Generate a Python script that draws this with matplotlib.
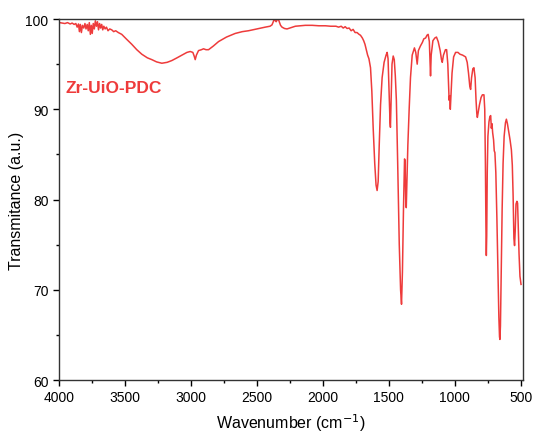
import matplotlib
matplotlib.use("Agg")
import matplotlib.pyplot as plt
from matplotlib.ticker import MultipleLocator

plt.rcParams["font.family"] = ["Liberation Sans", "DejaVu Sans"]

# FT-IR spectrum of Zr-UiO-PDC, (wavenumber, transmittance) read point by point
wavenumber = [
    3995, 3975, 3955, 3935, 3915, 3900, 3885, 3872, 3862, 3852, 3845, 3838,
    3830, 3822, 3812, 3803, 3795, 3786, 3778, 3770, 3762, 3755, 3748, 3740,
    3732, 3724, 3716, 3708, 3700, 3692, 3684, 3676, 3668, 3660, 3650, 3640,
    3628, 3615, 3600, 3585, 3570, 3550, 3524, 3490, 3448, 3410, 3372, 3330,
    3296, 3260, 3220, 3180, 3144, 3105, 3068, 3030, 3005, 2985, 2975, 2967,
    2958, 2942, 2920, 2904, 2885, 2866, 2830, 2790, 2730, 2664, 2610, 2563,
    2500, 2436, 2400, 2385, 2375, 2367, 2360, 2353, 2346, 2339, 2330, 2320,
    2309, 2290, 2271, 2240, 2208, 2170, 2132, 2080, 2030, 1980, 1940, 1900,
    1880, 1860, 1845, 1830, 1816, 1800, 1785, 1770, 1755, 1740, 1725, 1714,
    1700, 1690, 1680, 1670, 1660, 1650, 1638, 1628, 1618, 1606, 1596, 1588,
    1580, 1572, 1562, 1550, 1535, 1520, 1512, 1505, 1497, 1490, 1487, 1482,
    1475, 1466, 1458, 1450, 1442, 1432, 1420, 1410, 1403, 1396, 1388, 1380,
    1376, 1371, 1367, 1362, 1355, 1345, 1335, 1322, 1305, 1295, 1284, 1275,
    1260, 1245, 1234, 1220, 1210, 1201, 1192, 1186, 1183, 1178, 1165, 1150,
    1138, 1125, 1110, 1100, 1094, 1085, 1070, 1061, 1052, 1048, 1042, 1038,
    1033, 1028, 1020, 1008, 993, 975, 960, 940, 917, 905, 895, 885,
    879, 872, 862, 854, 845, 838, 832, 828, 822, 812, 800, 790,
    778, 772, 767, 763, 760, 757, 753, 748, 740, 733, 727, 722,
    717, 712, 705, 700, 695, 688, 680, 672, 665, 660, 657, 653,
    647, 640, 633, 625, 615, 608, 600, 590, 580, 570, 563, 557,
    551, 546, 541, 535, 528, 523, 518, 512, 505, 497,
]
transmittance = [
    99.6, 99.55, 99.5, 99.6, 99.45, 99.55, 99.4, 99.5, 99.1, 99.45, 98.6, 99.4,
    98.5, 99.3, 99.0, 99.5, 98.9, 99.4, 98.7, 99.6, 98.3, 99.3, 98.4, 99.5,
    98.9, 99.8, 99.2, 99.7, 98.8, 99.5, 99.0, 99.4, 98.8, 99.2, 98.9, 99.1,
    98.7, 98.9, 98.8, 98.6, 98.7, 98.5, 98.3, 97.8, 97.2, 96.6, 96.1, 95.7,
    95.5, 95.25, 95.1, 95.2, 95.4, 95.7, 96.0, 96.3, 96.4, 96.3, 95.9, 95.5,
    96.0, 96.5, 96.6, 96.7, 96.6, 96.6, 97.0, 97.5, 98.0, 98.4, 98.6, 98.7,
    98.9, 99.1, 99.2, 99.35, 99.7, 100.1, 99.8, 99.7, 99.9, 100.1, 99.7, 99.3,
    99.1, 98.95, 98.9, 99.05, 99.2, 99.25, 99.3, 99.3, 99.25, 99.25, 99.2, 99.2,
    99.1, 99.2, 99.0, 99.15, 98.95, 99.0, 98.7, 98.85, 98.5, 98.5, 98.3, 98.2,
    97.9, 97.6, 97.2, 96.6, 96.0, 95.6, 94.6, 92.0, 88.0, 84.0, 81.6, 81.0,
    82.0, 86.0, 90.5, 93.5, 95.2, 96.0, 96.3, 95.6, 92.0, 88.5, 88.0, 91.0,
    95.0, 95.9, 95.5, 93.7, 91.0, 84.0, 75.0, 70.0, 68.4, 72.0, 79.0, 84.5,
    84.3, 80.0, 79.1, 82.0, 86.0, 90.0, 93.5, 96.0, 96.8, 96.3, 95.0, 96.5,
    97.0, 97.4, 97.8, 97.9, 98.2, 98.3, 97.5, 95.0, 93.7, 96.0, 97.6, 97.9,
    98.0, 97.5, 96.5, 95.5, 95.2, 96.0, 96.6, 96.6, 95.0, 93.5, 91.0, 91.5,
    90.0, 91.5, 94.0, 95.8, 96.3, 96.3, 96.1, 96.0, 95.8, 95.2, 94.0, 92.5,
    92.2, 93.5, 94.5, 94.6, 93.5, 91.0, 89.5, 89.1, 89.6, 90.5, 91.3, 91.6,
    91.6, 90.0, 84.0, 77.0, 73.8, 76.0, 83.0, 87.0, 88.6, 89.2, 89.3, 87.9,
    88.4, 87.4, 86.6, 85.4, 85.2, 83.0, 78.0, 72.0, 67.0, 64.8, 64.5, 66.0,
    72.0, 79.0, 84.0, 87.0, 88.5, 88.9, 88.4, 87.5, 86.6, 85.5, 83.8, 80.5,
    75.7, 74.9, 76.5, 79.5, 79.8, 79.6, 77.0, 74.0, 71.5, 70.6,
]

red = "#EE3B3B"

fig = plt.figure(figsize=(5.36, 4.35), dpi=100)
ax = fig.add_axes([0.110, 0.124, 0.865, 0.830])

ax.plot(wavenumber, transmittance, color=red, lw=1.1)

ax.set_xlim(4000, 485)
ax.set_ylim(60, 100)
ax.xaxis.set_major_locator(MultipleLocator(500))
ax.xaxis.set_minor_locator(MultipleLocator(250))
ax.yaxis.set_major_locator(MultipleLocator(10))
ax.yaxis.set_minor_locator(MultipleLocator(5))
ax.tick_params(which="both", direction="out", top=False, right=False,
               labelsize=10, width=1.0)
ax.tick_params(which="major", length=4)
ax.tick_params(which="minor", length=2.5)
for sp in ax.spines.values():
    sp.set_linewidth(1.0)
    sp.set_color("#333333")

ax.set_xlabel("Wavenumber (cm$^{-1}$)", fontsize=11.5, labelpad=5)
ax.set_ylabel("Transmitance (a.u.)", fontsize=11.5, labelpad=1)

ax.text(0.014, 0.81, "Zr-UiO-PDC", transform=ax.transAxes, color=red,
        fontsize=12.5, fontweight="bold", va="center", ha="left")

fig.savefig("out.png", dpi=100)
